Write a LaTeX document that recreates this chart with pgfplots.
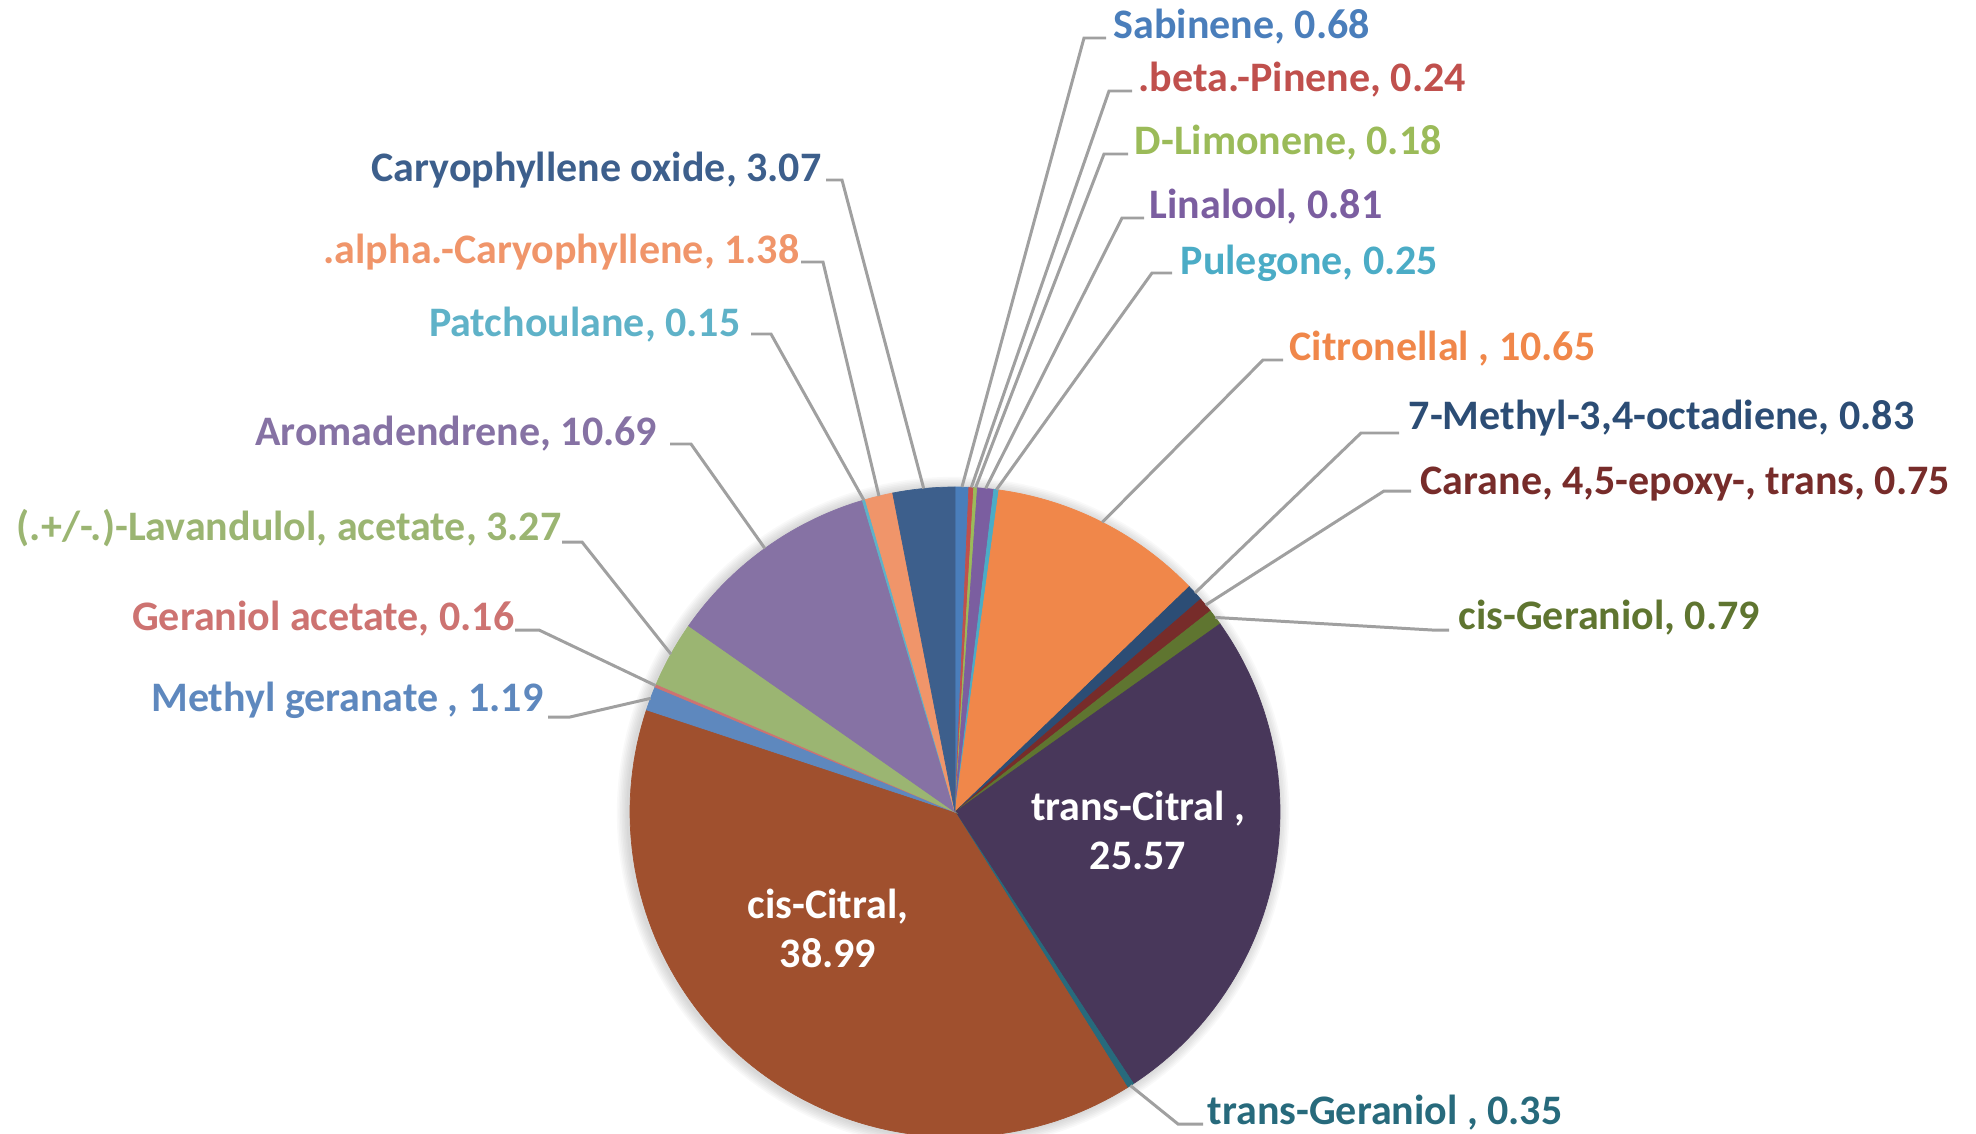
\documentclass[border=0pt]{standalone}
\usepackage{pgfplots}
\pgfplotsset{compat=1.18}
\usepackage{fontspec}
\setmainfont{Carlito}
\definecolor{cSab}{HTML}{4A7EBB}
\definecolor{cBeta}{HTML}{C0504D}
\definecolor{cLim}{HTML}{9BBB59}
\definecolor{cLin}{HTML}{7B5EA0}
\definecolor{cPul}{HTML}{4BACC6}
\definecolor{cCitro}{HTML}{F0874A}
\definecolor{cMeth}{HTML}{2C4D75}
\definecolor{cCar}{HTML}{772C2A}
\definecolor{cCisG}{HTML}{5F7530}
\definecolor{cTrC}{HTML}{48375A}
\definecolor{cTrG}{HTML}{276A7C}
\definecolor{cCisC}{HTML}{A0502E}
\definecolor{cMG}{HTML}{5E88BE}
\definecolor{cGA}{HTML}{CD7371}
\definecolor{cLav}{HTML}{9BB572}
\definecolor{cAro}{HTML}{8672A4}
\definecolor{cPat}{HTML}{5FB2C8}
\definecolor{cAlp}{HTML}{F0956A}
\definecolor{cCox}{HTML}{3D5F8C}
\definecolor{leader}{HTML}{A0A0A0}
% slice: #1 cumulative start (%), #2 value (%), #3 colour
\newcommand{\slice}[3]{%
  \pgfmathsetmacro{\sa}{#1*3.6}%
  \pgfmathsetmacro{\sb}{(#1+#2)*3.6}%
  \edef\doslice{\noexpand\addplot[fill=#3, draw=#3, line width=0.2pt, domain=\sa:\sb, samples=90]
    ({955+325*sin(x)},{812-325*cos(x)}) -- (axis cs:955,812) -- cycle;}%
  \doslice}
% leader line: #1 mid-angle, #2 elbow x, #3 elbow y, #4 stub end x
\newcommand{\leader}[4]{%
  \draw[leader, line width=0.85pt] (axis cs:{955+325*sin(#1)},{812-325*cos(#1)}) -- (axis cs:#2,#3) -- (axis cs:#4,#3);}
\begin{document}
\fontsize{11.95}{14}\selectfont
\begin{tikzpicture}
\begin{axis}[
  width=19.76cm, height=11.34cm, scale only axis,
  xmin=0, xmax=1976, ymin=0, ymax=1134, y dir=reverse,
  hide axis, clip=true,
]
% soft shadow
\pgfplotsinvokeforeach{1,...,7}{
  \addplot[draw=none, fill=black, fill opacity=0.025, domain=0:360, samples=180]
    ({953+(325+1.6*#1)*sin(x)},{813-(325+1.6*#1)*cos(x)});
}
% slices: start (cumulative %), value (%)
\slice{0.00}{0.68}{cSab}
\slice{0.68}{0.24}{cBeta}
\slice{0.92}{0.18}{cLim}
\slice{1.10}{0.81}{cLin}
\slice{1.91}{0.25}{cPul}
\slice{2.16}{10.65}{cCitro}
\slice{12.81}{0.83}{cMeth}
\slice{13.64}{0.75}{cCar}
\slice{14.39}{0.79}{cCisG}
\slice{15.18}{25.57}{cTrC}
\slice{40.75}{0.35}{cTrG}
\slice{41.10}{38.99}{cCisC}
\slice{80.09}{1.19}{cMG}
\slice{81.28}{0.16}{cGA}
\slice{81.44}{3.27}{cLav}
\slice{84.71}{10.69}{cAro}
\slice{95.40}{0.15}{cPat}
\slice{95.55}{1.38}{cAlp}
\slice{96.93}{3.07}{cCox}
% leader lines
\leader{1.224}{1084}{38}{1106}
\leader{2.88}{1109}{91}{1132}
\leader{3.636}{1104}{154}{1128}
\leader{5.418}{1122}{218}{1144}
\leader{7.326}{1152}{273}{1172}
\leader{26.946}{1263}{360}{1283}
\leader{47.61}{1361}{433}{1399}
\leader{50.454}{1384}{491}{1411}
\leader{53.226}{1432}{630}{1449}
\leader{147.33}{1178}{1124}{1203}
\leader{354.474}{842}{180}{826}
\leader{346.464}{823}{262}{801}
\leader{343.71}{771}{334}{751}
\leader{324.198}{691}{444}{670}
\leader{299.07}{582}{542}{562}
\leader{292.896}{539}{630}{515}
\leader{290.466}{570}{717}{548}
% labels right
\begin{scope}[every node/.style={inner sep=0pt, font=\bfseries}]
\node[anchor=base west, text=cSab] at (axis cs:1113,38) {Sabinene, 0.68};
\node[anchor=base west, text=cBeta] at (axis cs:1138,91) {.beta.-Pinene, 0.24};
\node[anchor=base west, text=cLim] at (axis cs:1134,154) {D-Limonene, 0.18};
\node[anchor=base west, text=cLin] at (axis cs:1149,218) {Linalool, 0.81};
\node[anchor=base west, text=cPul] at (axis cs:1180,274) {Pulegone, 0.25};
\node[anchor=base west, text=cCitro] at (axis cs:1289,360) {Citronellal , 10.65};
\node[anchor=base west, text=cMeth] at (axis cs:1408,429) {7-Methyl-3,4-octadiene, 0.83};
\node[anchor=base west, text=cCar] at (axis cs:1420,494) {Carane, 4,5-epoxy-, trans, 0.75};
\node[anchor=base west, text=cCisG] at (axis cs:1458,629) {cis-Geraniol, 0.79};
\node[anchor=base west, text=cTrG] at (axis cs:1207,1124) {trans-Geraniol , 0.35};
% labels left
\node[anchor=base east, text=cCox] at (axis cs:822,181) {Caryophyllene oxide, 3.07};
\node[anchor=base east, text=cAlp] at (axis cs:800,263) {.alpha.-Caryophyllene, 1.38};
\node[anchor=base east, text=cPat] at (axis cs:741,336) {Patchoulane, 0.15};
\node[anchor=base east, text=cAro] at (axis cs:658,445) {Aromadendrene, 10.69};
\node[anchor=base east, text=cLav] at (axis cs:562,540) {(.+/-.)-Lavandulol, acetate, 3.27};
\node[anchor=base east, text=cGA] at (axis cs:515,630) {Geraniol acetate, 0.16};
\node[anchor=base east, text=cMG] at (axis cs:544,711) {Methyl geranate , 1.19};
% inside labels
\node[anchor=base, text=white] at (axis cs:1138,820) {trans-Citral ,};
\node[anchor=base, text=white] at (axis cs:1138,869) {25.57};
\node[anchor=base, text=white] at (axis cs:828,918) {cis-Citral,};
\node[anchor=base, text=white] at (axis cs:828,967) {38.99};
\end{scope}
\end{axis}
\pgfresetboundingbox
\path (current axis.south west) rectangle (current axis.north east);
\end{tikzpicture}
\end{document}
